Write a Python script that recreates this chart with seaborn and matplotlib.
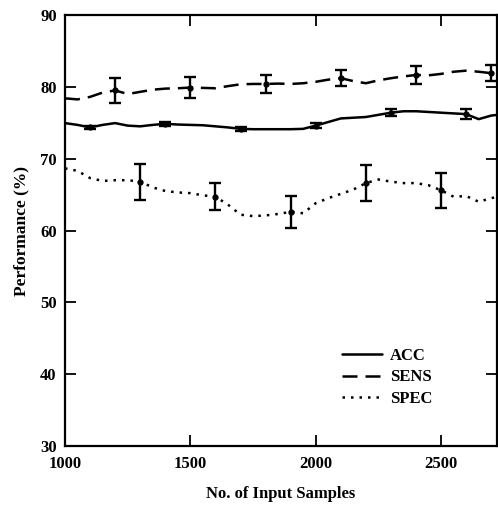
import numpy as np
import pandas as pd
import matplotlib
matplotlib.use("Agg")
import matplotlib.pyplot as plt
import seaborn as sns

# data
samples = list(range(1000, 2800, 50))
acc = [74.95, 74.7, 74.35, 74.7, 74.95, 74.6, 74.5, 74.7, 74.85, 74.75,
       74.7, 74.65, 74.5, 74.35, 74.15, 74.1, 74.1, 74.1, 74.1, 74.15,
       74.6, 75.1, 75.6, 75.7, 75.8, 76.1, 76.4, 76.6, 76.6, 76.5,
       76.4, 76.3, 76.2, 75.5, 76.0, 76.2]
sens = [78.4, 78.25, 78.6, 79.2, 79.5, 79.0, 79.3, 79.6, 79.75, 79.8,
        79.9, 79.85, 79.8, 80.1, 80.35, 80.4, 80.4, 80.45, 80.4, 80.5,
        80.7, 81.0, 81.2, 80.8, 80.5, 80.9, 81.2, 81.45, 81.65, 81.6,
        81.8, 82.1, 82.25, 82.1, 81.9, 82.0]
spec = [68.65, 68.3, 67.3, 66.9, 67.0, 67.0, 66.8, 66.0, 65.5, 65.3,
        65.2, 64.9, 64.7, 63.6, 62.2, 62.0, 62.1, 62.3, 62.6, 62.4,
        63.8, 64.5, 65.1, 65.7, 66.6, 67.1, 66.8, 66.6, 66.6, 66.3,
        65.6, 64.7, 64.8, 64.0, 64.5, 64.9]

# error bars (x position, half width)
acc_err_x = [1100, 1400, 1700, 2000, 2300, 2600]
acc_err = [0.25, 0.25, 0.25, 0.4, 0.45, 0.7]
sens_err_x = [1200, 1500, 1800, 2100, 2400, 2700]
sens_err = [1.7, 1.4, 1.3, 1.1, 1.2, 1.1]
spec_err_x = [1300, 1600, 1900, 2200, 2500]
spec_err = [2.5, 1.9, 2.2, 2.5, 2.4]

sns.set_style("ticks", {'axes.edgecolor': 'black', 'text.color': 'black',
                        'axes.labelcolor': 'black', 'xtick.color': 'black',
                        'ytick.color': 'black'})
plt.rcParams['font.family'] = ['Liberation Serif', 'DejaVu Serif']

df = pd.DataFrame({
    'samples': samples * 3,
    'perf': acc + sens + spec,
    'metric': ['ACC'] * len(samples) + ['SENS'] * len(samples) + ['SPEC'] * len(samples),
})

fig = plt.figure(figsize=(4.98, 5.08), dpi=100)
ax = fig.add_axes([0.1305, 0.122, 0.8675, 0.8485])

sns.lineplot(data=df, x='samples', y='perf', style='metric',
             dashes={'ACC': '', 'SENS': (6.0, 3.2), 'SPEC': (1.0, 2.4)},
             color='black', linewidth=1.8, ax=ax)

# error bars at the line values
for ex, ee, vals in [(acc_err_x, acc_err, acc), (sens_err_x, sens_err, sens),
                     (spec_err_x, spec_err, spec)]:
    ys = [vals[samples.index(x)] for x in ex]
    ax.errorbar(ex, ys, yerr=ee, fmt='o', color='black', markersize=3.5,
                elinewidth=1.7, capsize=4.5, capthick=1.7)

ax.set_xlim(1000, 2723)
ax.set_ylim(30, 90)
ax.set_xticks([1000, 1500, 2000, 2500])
ax.set_yticks([30, 40, 50, 60, 70, 80, 90])
ax.tick_params(direction='in', length=8, width=1.3, top=True, right=True,
               labelsize=12)
ax.tick_params(axis='x', pad=7)
ax.tick_params(axis='y', pad=6)
for lab in ax.get_xticklabels() + ax.get_yticklabels():
    lab.set_fontweight('bold')
for s in ax.spines.values():
    s.set_linewidth(1.6)

ax.set_xlabel('No. of Input Samples', fontsize=12, fontweight='bold', labelpad=10)
ax.set_ylabel('Performance (%)', fontsize=12.5, fontweight='bold', labelpad=8)

leg = ax.legend(loc='lower right', bbox_to_anchor=(0.885, 0.055), frameon=False,
                handlelength=2.4, handletextpad=0.5, labelspacing=0.35,
                prop={'weight': 'bold', 'size': 12})
for h in leg.get_lines():
    h.set_linewidth(1.8)

fig.savefig('out.png', dpi=100)
